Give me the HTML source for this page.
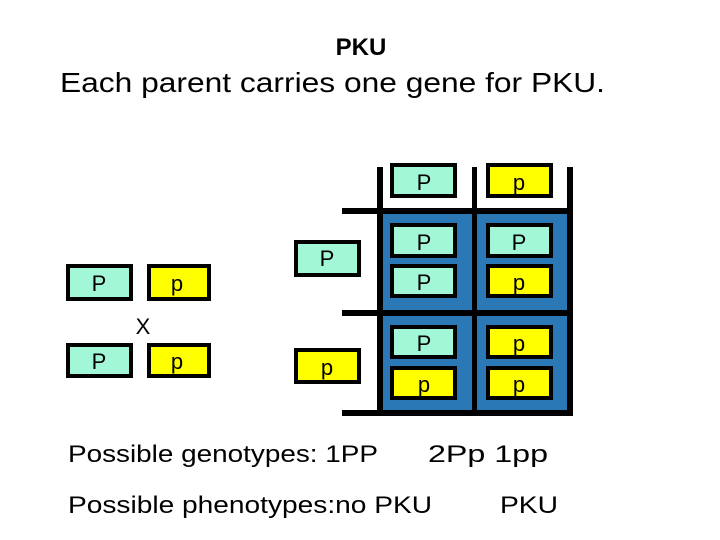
<!DOCTYPE html>
<html><head><style>body{margin:0;background:#fff}svg{display:block}</style></head>
<body>
<svg width="720" height="540" xmlns="http://www.w3.org/2000/svg" font-family="Liberation Sans, Arial, sans-serif">
<rect width="720" height="540" fill="#fff"/>
<text x="361" y="55" font-size="24" font-weight="bold" text-anchor="middle">PKU</text>
<text x="60" y="92" font-size="28" textLength="545" lengthAdjust="spacingAndGlyphs">Each parent carries one gene for PKU.</text>
<!-- blue cells -->
<rect x="383" y="214" width="89" height="96" fill="#2a78b6"/>
<rect x="477" y="214" width="90" height="96" fill="#2a78b6"/>
<rect x="383" y="316" width="89" height="94" fill="#2a78b6"/>
<rect x="477" y="316" width="90" height="94" fill="#2a78b6"/>
<!-- grid lines -->
<g fill="#000">
<rect x="377" y="167" width="6" height="249"/>
<rect x="472" y="167" width="5" height="249"/>
<rect x="567" y="167" width="6" height="249"/>
<rect x="342" y="208" width="231" height="6"/>
<rect x="342" y="310" width="231" height="6"/>
<rect x="342" y="410" width="231" height="6"/>
</g>
<g stroke="#000" stroke-width="4">
<rect x="392" y="165" width="63" height="31" fill="#a2f8d6"/>
<rect x="488" y="165" width="63" height="31" fill="#ffff00"/>
<rect x="392" y="225" width="63" height="31" fill="#a2f8d6"/>
<rect x="488" y="225" width="63" height="31" fill="#a2f8d6"/>
<rect x="392" y="266" width="63" height="30" fill="#a2f8d6"/>
<rect x="488" y="266" width="63" height="30" fill="#ffff00"/>
<rect x="392" y="327" width="63" height="30" fill="#a2f8d6"/>
<rect x="488" y="327" width="63" height="30" fill="#ffff00"/>
<rect x="392" y="368" width="63" height="30" fill="#ffff00"/>
<rect x="488" y="368" width="63" height="30" fill="#ffff00"/>
<rect x="296" y="242" width="63" height="33" fill="#a2f8d6"/>
<rect x="296" y="350" width="63" height="32" fill="#ffff00"/>
<rect x="68" y="266" width="63" height="33" fill="#a2f8d6"/>
<rect x="149" y="266" width="60" height="33" fill="#ffff00"/>
<rect x="68" y="345" width="63" height="31" fill="#a2f8d6"/>
<rect x="149" y="345" width="60" height="31" fill="#ffff00"/>
</g>
<g font-size="22" text-anchor="middle">
<text x="424" y="190">P</text><text x="519" y="190">p</text>
<text x="424" y="250">P</text><text x="519" y="250">P</text>
<text x="424" y="290">P</text><text x="519" y="290">p</text>
<text x="424" y="351">P</text><text x="519" y="351">p</text>
<text x="424" y="392">p</text><text x="519" y="392">p</text>
<text x="327" y="266">P</text><text x="327" y="375">p</text>
<text x="99" y="291">P</text><text x="177" y="291">p</text>
<text x="99" y="369">P</text><text x="177" y="369">p</text>
<text x="143" y="334">X</text>
</g>
<g font-size="24">
<text x="68" y="462" textLength="310" lengthAdjust="spacingAndGlyphs">Possible genotypes: 1PP</text>
<text x="428" y="462" textLength="120" lengthAdjust="spacingAndGlyphs">2Pp   1pp</text>
<text x="68" y="513" textLength="364" lengthAdjust="spacingAndGlyphs">Possible phenotypes:no PKU</text>
<text x="500" y="513" textLength="58" lengthAdjust="spacingAndGlyphs">PKU</text>
</g>
</svg>
</body></html>
